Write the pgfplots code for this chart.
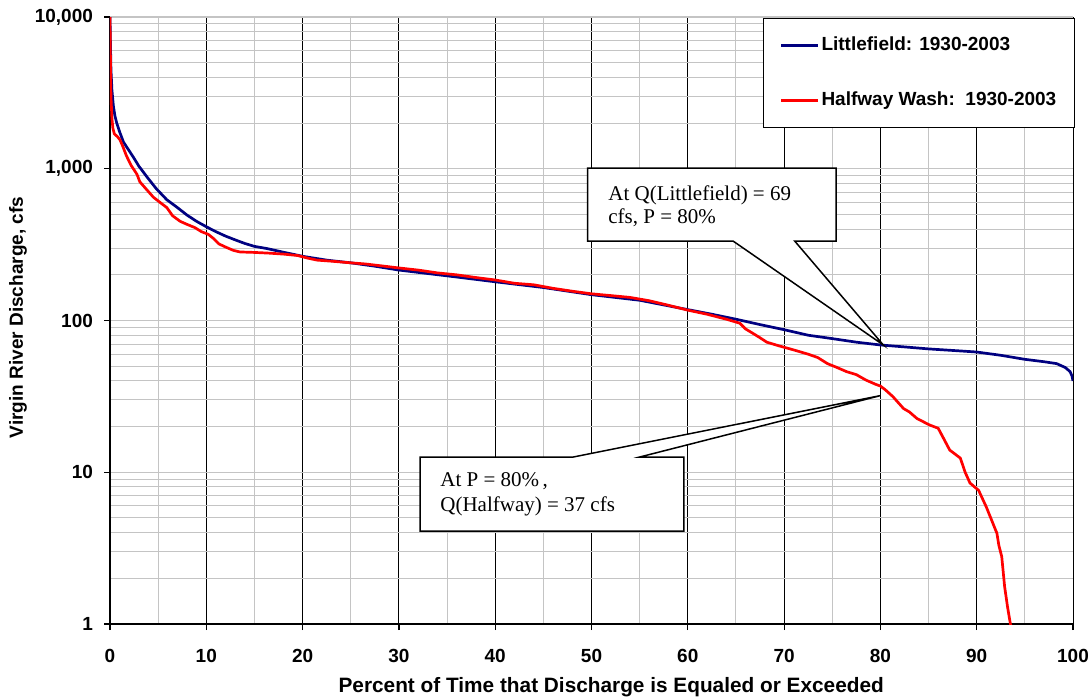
\documentclass[border=0pt]{standalone}
\usepackage{pgfplots}
\pgfplotsset{compat=1.18}
\usepackage{fontspec}
\setmainfont{Liberation Sans}
\newfontfamily\timesfont{Liberation Serif}
\definecolor{navyline}{RGB}{0,0,128}
\definecolor{gridgray}{RGB}{196,196,196}
\begin{document}
\begin{tikzpicture}
\path[use as bounding box] (-55pt,-37pt) rectangle (491pt,312pt);
\begin{axis}[
 at={(0,0)}, anchor=south west,
 scale only axis, width=481.5pt, height=303.5pt,
 xmin=0, xmax=100, ymin=1, ymax=10000, ymode=log,
 xtick={0,10,...,100}, minor x tick num=1,
 ytick={1,10,100,1000,10000}, yticklabels={1,10,100,{1,000},{10,000}},
 axis x line*=bottom, axis y line*=left,
 axis line style={line width=0.6pt, -},
 tick align=outside, major tick length=3pt, minor tick length=0pt,
 tick style={black, line width=0.6pt},
 grid=both,
 major x grid style={black, line width=0.5pt},
 minor x grid style={gridgray, line width=0.5pt},
 major y grid style={gridgray, line width=0.7pt},
 minor y grid style={gridgray, line width=0.5pt},
 ticklabel style={font=\bfseries\fontsize{9.5}{11}\selectfont},
 xticklabel style={yshift=-6pt},
 yticklabel style={xshift=-2pt},
 /pgf/number format/assume math mode=true,
 xlabel={Percent of Time that Discharge is Equaled or Exceeded},
 ylabel={Virgin River Discharge, cfs},
 xlabel style={font=\bfseries\fontsize{10.4}{12}\selectfont, at={(axis description cs:0.5205,-0.1035)}, anchor=center},
 ylabel style={font=\bfseries\fontsize{9.5}{11}\selectfont, at={(axis description cs:-0.0955,0.505)}, anchor=center},
 legend style={at={(1.002,0.998)}, anchor=north east, draw=black, line width=0.6pt, fill=white,
   font=\bfseries\fontsize{9.5}{11}\selectfont, inner xsep=8pt, inner ysep=9pt, row sep=18.5pt,
   cells={anchor=west}, nodes={inner xsep=1pt, inner ysep=0pt, text height=7pt, text depth=2pt}},
 legend image code/.code={\draw[#1] (0pt,0pt) -- (18.5pt,0pt);},
]
\addplot[navyline, line width=1.35pt] coordinates {
(0,10000) (0.05,6500) (0.1,4500) (0.2,3300) (0.35,2600) (0.5,2250) (0.7,2000) (1.0,1750)
(1.4,1500) (1.8,1370) (2.4,1200) (3.0,1040) (3.8,890) (4.8,740) (5.9,625) (7.0,555)
(8.0,495) (9.0,450) (10.0,415) (11.0,385) (12.0,360) (13.0,340) (14.0,322) (15.0,308)
(16.3,298) (18.0,282) (20.0,265) (22.5,250) (25,240) (27.5,228) (30,215) (35,197)
(40,180) (45,165) (50,148) (55,136) (60,118) (62.5,110) (65,102) (67.5,94) (70,87)
(72.5,80) (75,76) (77.5,72) (80,69) (82.5,67) (85,65) (87.5,63.5) (90,62) (92.5,59)
(95,55.5) (97,53.5) (98.3,52) (99.2,49) (99.7,46) (99.9,43) (100,40)
};
\addlegendentry{Littlefield: 1930-2003}
\addplot[red, line width=1.35pt] coordinates {
(0,10000) (0.05,5000) (0.1,3000) (0.2,2150) (0.3,1850) (0.45,1700) (0.8,1620) (1.04,1550)
(1.3,1420) (1.7,1220) (2.2,1050) (2.8,920) (3.1,820) (3.8,730) (4.5,650) (5.2,600)
(5.9,555) (6.5,490) (7.3,450) (8.0,430) (8.8,410) (9.5,385) (10.2,370) (10.8,345)
(11.3,320) (12.0,305) (12.8,290) (13.5,283) (15,281) (16.5,278) (18,274) (19.5,268)
(20.5,258) (21.5,250) (23,246) (25,240) (26.5,236) (28,230) (30,222) (32,215) (34,206)
(36,200) (38,192) (40,185) (42,176) (44,172) (46,163) (48,156) (50,150) (52,146)
(54,142) (56,135) (58,126) (60,117) (62,110) (64,102) (65.4,96) (66,88) (66.8,82)
(67.5,77) (68.2,72) (69.5,68) (71,64) (72.5,60) (73.5,57) (74.5,52) (75.5,49)
(76.5,46) (77.5,44) (78.5,40.5) (79.5,38) (80,37) (80.5,35) (81.3,31.5) (82.4,26.3)
(83,25) (83.8,22.6) (85.1,20.5) (86,19.5) (86.5,17) (87.2,14) (88.3,12.4) (88.8,10)
(89.3,8.5) (90.2,7.6) (91,5.9) (92.1,3.96) (92.3,3.3) (92.6,2.78) (92.9,1.76)
(93.2,1.3) (93.5,1.0) (93.6,0.95)
};
\addlegendentry{Halfway Wash:\ \ 1930-2003}
% callout 1
\filldraw[fill=white, draw=black, line width=0.75pt, line join=miter]
 (axis cs:49.6,334) -- (axis cs:49.6,1011) -- (axis cs:75.4,1011) -- (axis cs:75.4,334)
 -- (axis cs:71.1,334) -- (axis cs:80.3,69) -- (axis cs:64.7,334) -- cycle;
\node[anchor=base west, inner sep=0pt, font=\timesfont\fontsize{10.5}{12}\selectfont] at (axis cs:51.71,622) {At Q(Littlefield) = 69};
\node[anchor=base west, inner sep=0pt, font=\timesfont\fontsize{10.5}{12}\selectfont] at (axis cs:51.71,432.6) {cfs, P = 80\%};
% callout 2
\filldraw[fill=white, draw=black, line width=0.75pt, line join=miter]
 (axis cs:32.2,12.6) -- (axis cs:48.1,12.6) -- (axis cs:80,32) -- (axis cs:55.0,12.6)
 -- (axis cs:59.6,12.6) -- (axis cs:59.6,4.1) -- (axis cs:32.2,4.1) -- cycle;
\node[anchor=base west, inner sep=0pt, font=\timesfont\fontsize{10.5}{12}\selectfont] at (axis cs:34.27,8.04) {At P = 80\%\,,};
\node[anchor=base west, inner sep=0pt, font=\timesfont\fontsize{10.5}{12}\selectfont] at (axis cs:34.27,5.50) {Q(Halfway) = 37 cfs};
\end{axis}
\end{tikzpicture}
\end{document}
